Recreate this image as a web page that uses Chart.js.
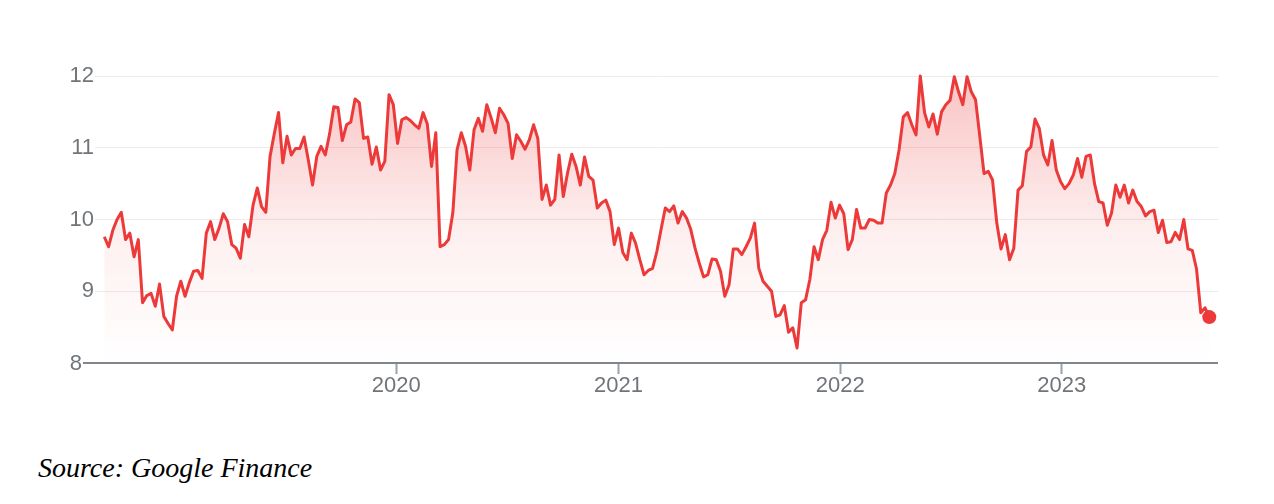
<!DOCTYPE html>
<html>
<head>
<meta charset="utf-8">
<script src="https://cdn.jsdelivr.net/npm/chart.js@4.4.1/dist/chart.umd.min.js"></script>
<style>
  html, body { margin: 0; padding: 0; background: #ffffff; }
  #wrap { position: relative; width: 1274px; height: 504px; overflow: hidden; }
  #c { position: absolute; left: 0; top: 0; }
  #src { position: absolute; left: 38px; top: 454px; font-family: "Liberation Serif", "Times New Roman", serif;
         font-style: italic; font-size: 28px; line-height: 1; color: #000; white-space: nowrap; }
</style>
</head>
<body>
<div id="wrap">
  <canvas id="c" width="1274" height="420"></canvas>
  <div id="src">Source: Google Finance</div>
</div>
<script>
// ---- data (weekly closes) ----
const firstWeek = '2018-09-07';
const prices = [
  9.76, 9.62, 9.85, 10.00, 10.10, 9.72, 9.81, 9.48, 9.72, 8.84,
  8.94, 8.97, 8.79, 9.10, 8.65, 8.55, 8.46, 8.93, 9.14, 8.93,
  9.12, 9.28, 9.29, 9.18, 9.81, 9.97, 9.72, 9.88, 10.08, 9.97,
  9.65, 9.60, 9.46, 9.93, 9.76, 10.20, 10.44, 10.18, 10.10, 10.88,
  11.20, 11.49, 10.79, 11.16, 10.90, 10.99, 10.99, 11.15, 10.83, 10.48,
  10.88, 11.02, 10.90, 11.19, 11.57, 11.56, 11.10, 11.32, 11.36, 11.68,
  11.63, 11.13, 11.15, 10.77, 11.01, 10.69, 10.81, 11.74, 11.60, 11.06,
  11.39, 11.42, 11.38, 11.32, 11.27, 11.49, 11.33, 10.74, 11.21, 9.62,
  9.65, 9.72, 10.09, 10.97, 11.21, 11.02, 10.69, 11.25, 11.41, 11.23,
  11.60, 11.42, 11.21, 11.55, 11.46, 11.34, 10.85, 11.18, 11.09, 10.98,
  11.11, 11.32, 11.13, 10.28, 10.48, 10.20, 10.28, 10.90, 10.32, 10.65,
  10.91, 10.74, 10.48, 10.87, 10.60, 10.55, 10.16, 10.23, 10.27, 10.11,
  9.65, 9.88, 9.54, 9.44, 9.81, 9.67, 9.44, 9.23, 9.29, 9.32,
  9.55, 9.86, 10.16, 10.11, 10.19, 9.95, 10.11, 10.02, 9.86, 9.60,
  9.39, 9.20, 9.23, 9.45, 9.44, 9.28, 8.93, 9.09, 9.59, 9.59,
  9.51, 9.62, 9.74, 9.95, 9.32, 9.14, 9.07, 9.00, 8.65, 8.67,
  8.80, 8.43, 8.49, 8.21, 8.84, 8.88, 9.16, 9.62, 9.44, 9.72,
  9.85, 10.24, 10.02, 10.20, 10.08, 9.58, 9.72, 10.14, 9.88, 9.88,
  10.00, 9.99, 9.95, 9.95, 10.37, 10.48, 10.64, 10.97, 11.43, 11.49,
  11.32, 11.18, 12.00, 11.49, 11.29, 11.47, 11.19, 11.50, 11.60, 11.66,
  11.99, 11.78, 11.60, 11.99, 11.78, 11.67, 11.16, 10.64, 10.67, 10.55,
  9.95, 9.59, 9.79, 9.44, 9.60, 10.41, 10.47, 10.95, 11.01, 11.40,
  11.27, 10.90, 10.76, 11.10, 10.69, 10.53, 10.43, 10.50, 10.62, 10.85,
  10.59, 10.88, 10.90, 10.50, 10.25, 10.23, 9.92, 10.09, 10.48, 10.31,
  10.48, 10.23, 10.41, 10.25, 10.18, 10.05, 10.11, 10.13, 9.82, 9.99,
  9.68, 9.69, 9.82, 9.72, 10.00, 9.59, 9.57, 9.31, 8.70, 8.77,
  8.64
];
const yearTicks = [2020, 2021, 2022, 2023];
const yTicks = [8, 9, 10, 11, 12];

// ---- build ----
const WEEK = 7 * 24 * 3600 * 1000;
const t0 = Date.parse(firstWeek + 'T00:00:00Z');
const points = prices.map((v, i) => ({ x: t0 + i * WEEK, y: v }));
const tEnd = t0 + (prices.length - 1) * WEEK;

const RED = 'rgb(236, 58, 58)';
const LABEL = '#70757a';
const FONT = { family: '"Liberation Sans", Arial, Helvetica, sans-serif', size: 22 };

const baselinePlugin = {
  id: 'baseline',
  afterDraw(chart) {
    const { ctx, chartArea, scales } = chart;
    const y = Math.round(scales.y.getPixelForValue(yTicks[0]));
    ctx.save();
    ctx.strokeStyle = '#80868b';
    ctx.lineWidth = 2;
    ctx.beginPath();
    ctx.moveTo(83, y);
    ctx.lineTo(chartArea.right, y);
    ctx.stroke();
    ctx.fillStyle = LABEL;
    ctx.font = FONT.size + 'px ' + FONT.family;
    ctx.textAlign = 'right';
    ctx.textBaseline = 'middle';
    ctx.fillText(String(yTicks[0]), 82, y + 1);
    ctx.restore();
  }
};

new Chart(document.getElementById('c'), {
  type: 'line',
  data: {
    datasets: [{
      data: points,
      borderColor: RED,
      borderWidth: 3,
      borderJoinStyle: 'round',
      tension: 0,
      fill: 'start',
      clip: false,
      backgroundColor: (ctx) => {
        const ca = ctx.chart.chartArea;
        if (!ca) return 'rgba(236,58,58,0.15)';
        const g = ctx.chart.ctx.createLinearGradient(0, ca.top, 0, ca.bottom);
        g.addColorStop(0, 'rgba(236, 58, 58, 0.30)');
        g.addColorStop(0.55, 'rgba(236, 58, 58, 0.08)');
        g.addColorStop(1, 'rgba(236, 58, 58, 0.0)');
        return g;
      },
      pointRadius: (ctx) => ctx.dataIndex === prices.length - 1 ? 7 : 0,
      pointHoverRadius: 0,
      pointBackgroundColor: RED,
      pointBorderColor: RED,
      pointBorderWidth: 0
    }]
  },
  options: {
    responsive: false,
    animation: false,
    events: [],
    layout: { padding: { left: 0, right: 56, top: 76, bottom: 0 } },
    plugins: { legend: { display: false }, tooltip: { enabled: false } },
    scales: {
      x: {
        type: 'linear',
        min: t0 - 2.19 * WEEK,
        max: tEnd + 2.05 * WEEK,
        afterBuildTicks: (scale) => {
          scale.ticks = yearTicks.map(y => ({ value: Date.UTC(y, 0, 1) }));
        },
        afterFit: (scale) => { scale.height = 420 - 363; },
        ticks: {
          autoSkip: false,
          maxRotation: 0,
          padding: -1,
          color: LABEL,
          font: FONT,
          callback: (v) => String(new Date(v).getUTCFullYear())
        },
        grid: {
          drawOnChartArea: false,
          drawTicks: true,
          tickLength: 11,
          tickColor: '#9aa0a6',
          tickWidth: 2
        },
        border: { display: false }
      },
      y: {
        min: yTicks[0],
        max: yTicks[yTicks.length - 1],
        afterBuildTicks: (scale) => { scale.ticks = yTicks.map(v => ({ value: v })); },
        afterFit: (scale) => { scale.width = 95; },
        ticks: {
          padding: 1,
          color: LABEL,
          font: FONT,
          callback: (v) => v === yTicks[0] ? '' : String(v)
        },
        grid: {
          drawTicks: false,
          color: (ctx) => ctx.tick && ctx.tick.value === yTicks[0] ? 'rgba(0,0,0,0)' : '#ececec',
          lineWidth: 1
        },
        border: { display: false }
      }
    }
  },
  plugins: [baselinePlugin]
});
</script>
</body>
</html>
